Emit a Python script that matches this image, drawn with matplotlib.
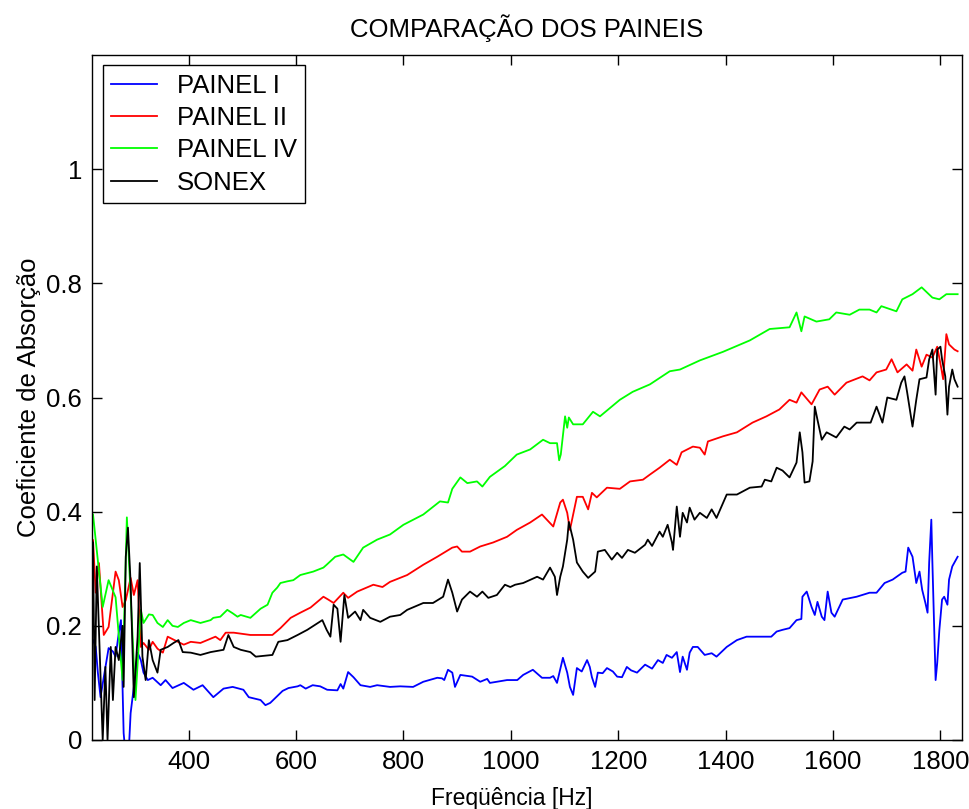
import numpy as np
import matplotlib
matplotlib.use("Agg")
import matplotlib.pyplot as plt

plt.rcParams['font.family'] = ['Liberation Sans', 'DejaVu Sans']

# PAINEL I
f_painel1 = [222, 227, 231, 236, 242, 251, 259, 264, 270, 274, 279, 283, 288, 292, 298, 305, 311, 316,
             324, 333, 348, 357, 370, 391, 409, 426, 446, 465, 482, 502, 512, 534, 543, 552, 575, 586,
             603, 608, 618, 631, 645, 658, 677, 683, 688, 697, 707, 720, 738, 751, 775, 794, 818, 837,
             863, 872, 876, 883, 891, 896, 906, 928, 943, 956, 961, 993, 1012, 1023, 1041, 1058, 1073,
             1079, 1086, 1097, 1105, 1110, 1116, 1123, 1132, 1142, 1147, 1151, 1157, 1162, 1171, 1179,
             1190, 1198, 1207, 1216, 1224, 1235, 1250, 1263, 1274, 1283, 1290, 1300, 1309, 1315, 1320,
             1328, 1333, 1339, 1348, 1361, 1374, 1383, 1402, 1421, 1439, 1463, 1485, 1495, 1506, 1519,
             1532, 1541, 1543, 1551, 1560, 1566, 1571, 1579, 1584, 1590, 1597, 1603, 1618, 1644, 1668,
             1681, 1696, 1711, 1729, 1735, 1740, 1748, 1755, 1761, 1766, 1772, 1776, 1779, 1783, 1785,
             1789, 1791, 1794, 1798, 1803, 1807, 1813, 1816, 1822, 1832]
a_painel1 = [0.175, 0.163, 0.118, 0.075, 0.110, 0.161, 0.155, 0.146, 0.188, 0.210, 0.012, -0.030, -0.030,
             0.047, 0.093, 0.153, 0.140, 0.118, 0.105, 0.109, 0.096, 0.105, 0.091, 0.100, 0.088, 0.096,
             0.075, 0.090, 0.093, 0.088, 0.075, 0.070, 0.061, 0.065, 0.086, 0.091, 0.094, 0.096, 0.090,
             0.096, 0.094, 0.088, 0.087, 0.098, 0.090, 0.119, 0.110, 0.096, 0.093, 0.096, 0.093, 0.094,
             0.093, 0.102, 0.109, 0.108, 0.105, 0.123, 0.118, 0.093, 0.114, 0.111, 0.102, 0.107, 0.100,
             0.105, 0.105, 0.114, 0.123, 0.109, 0.109, 0.112, 0.100, 0.144, 0.118, 0.093, 0.079, 0.126,
             0.120, 0.140, 0.128, 0.110, 0.093, 0.118, 0.117, 0.126, 0.120, 0.111, 0.110, 0.128, 0.122,
             0.118, 0.132, 0.125, 0.140, 0.135, 0.149, 0.144, 0.154, 0.119, 0.146, 0.123, 0.153, 0.163,
             0.163, 0.149, 0.152, 0.146, 0.163, 0.175, 0.181, 0.181, 0.181, 0.190, 0.193, 0.196, 0.210,
             0.212, 0.251, 0.260, 0.233, 0.219, 0.242, 0.216, 0.210, 0.260, 0.223, 0.216, 0.246, 0.251,
             0.258, 0.258, 0.275, 0.281, 0.293, 0.295, 0.337, 0.321, 0.275, 0.295, 0.263, 0.240, 0.223,
             0.311, 0.386, 0.311, 0.175, 0.105, 0.135, 0.193, 0.246, 0.251, 0.237, 0.281, 0.304, 0.321]

# PAINEL II
f_painel2 = [222, 227, 233, 242, 251, 264, 270, 277, 283, 292, 298, 305, 311, 316, 326, 333, 342, 352,
             361, 380, 391, 404, 422, 450, 459, 469, 484, 515, 556, 571, 590, 608, 627, 651, 660, 670,
             688, 697, 714, 744, 761, 775, 807, 837, 863, 891, 900, 909, 924, 943, 967, 993, 1011, 1036,
             1058, 1079, 1092, 1097, 1105, 1110, 1123, 1134, 1144, 1151, 1160, 1179, 1203, 1222, 1246,
             1259, 1277, 1296, 1309, 1318, 1339, 1352, 1361, 1367, 1395, 1421, 1450, 1476, 1500, 1519,
             1532, 1541, 1560, 1575, 1590, 1603, 1625, 1655, 1668, 1681, 1699, 1709, 1720, 1737, 1748,
             1755, 1765, 1774, 1785, 1794, 1802, 1805, 1811, 1816, 1826, 1832]
a_painel2 = [0.350, 0.258, 0.310, 0.184, 0.198, 0.295, 0.280, 0.233, 0.245, 0.284, 0.254, 0.280, 0.163,
             0.170, 0.158, 0.172, 0.160, 0.153, 0.181, 0.172, 0.167, 0.172, 0.170, 0.181, 0.175, 0.188,
             0.188, 0.184, 0.184, 0.196, 0.214, 0.223, 0.232, 0.251, 0.246, 0.240, 0.258, 0.249, 0.260,
             0.272, 0.268, 0.277, 0.289, 0.307, 0.321, 0.337, 0.339, 0.330, 0.330, 0.339, 0.346, 0.356,
             0.368, 0.381, 0.395, 0.374, 0.416, 0.421, 0.398, 0.368, 0.426, 0.426, 0.404, 0.433, 0.425,
             0.442, 0.440, 0.453, 0.456, 0.465, 0.477, 0.491, 0.482, 0.504, 0.514, 0.512, 0.500, 0.523,
             0.532, 0.539, 0.556, 0.567, 0.579, 0.596, 0.591, 0.609, 0.588, 0.614, 0.619, 0.605, 0.626,
             0.637, 0.630, 0.644, 0.649, 0.667, 0.644, 0.658, 0.647, 0.684, 0.654, 0.675, 0.670, 0.689,
             0.649, 0.632, 0.711, 0.693, 0.684, 0.681]

# PAINEL IV
f_painel4 = [222, 240, 251, 264, 277, 285, 296, 301, 311, 316, 326, 333, 342, 352, 361, 370, 380, 391,
             404, 422, 441, 446, 459, 472, 482, 491, 497, 515, 534, 547, 556, 565, 571, 584, 595, 608,
             632, 651, 657, 673, 688, 707, 725, 751, 775, 800, 837, 868, 883, 891, 906, 919, 937, 947,
             961, 989, 1011, 1036, 1060, 1073, 1086, 1090, 1093, 1101, 1105, 1108, 1116, 1134, 1153,
             1166, 1203, 1227, 1259, 1296, 1315, 1352, 1395, 1445, 1482, 1519, 1532, 1541, 1547, 1569,
             1593, 1606, 1631, 1649, 1668, 1681, 1690, 1718, 1729, 1748, 1765, 1785, 1798, 1811, 1832]
a_painel4 = [0.395, 0.233, 0.280, 0.250, 0.105, 0.390, 0.175, 0.070, 0.228, 0.205, 0.220, 0.219, 0.205,
             0.198, 0.210, 0.200, 0.198, 0.205, 0.210, 0.205, 0.210, 0.214, 0.216, 0.228, 0.222, 0.216,
             0.219, 0.214, 0.230, 0.237, 0.258, 0.267, 0.275, 0.278, 0.280, 0.289, 0.295, 0.302, 0.307,
             0.321, 0.325, 0.312, 0.337, 0.351, 0.360, 0.377, 0.395, 0.418, 0.416, 0.440, 0.460, 0.450,
             0.453, 0.444, 0.461, 0.480, 0.500, 0.509, 0.526, 0.520, 0.520, 0.490, 0.500, 0.567, 0.547,
             0.565, 0.553, 0.553, 0.575, 0.567, 0.596, 0.610, 0.623, 0.646, 0.649, 0.665, 0.680, 0.700,
             0.720, 0.723, 0.749, 0.716, 0.742, 0.733, 0.737, 0.749, 0.745, 0.754, 0.754, 0.749, 0.760,
             0.751, 0.772, 0.781, 0.793, 0.775, 0.772, 0.781, 0.781]

# SONEX
f_sonex = [222, 225, 229, 240, 245, 249, 255, 259, 264, 270, 277, 279, 283, 287, 292, 298, 305, 309, 314,
           320, 326, 333, 342, 348, 361, 372, 381, 389, 404, 422, 441, 465, 474, 484, 497, 515, 525, 556,
           567, 584, 603, 621, 649, 657, 664, 670, 677, 683, 690, 697, 710, 720, 725, 738, 757, 775, 794,
           807, 837, 855, 874, 883, 891, 900, 909, 924, 937, 947, 958, 974, 989, 999, 1008, 1023, 1049,
           1060, 1073, 1082, 1086, 1092, 1097, 1105, 1108, 1116, 1123, 1134, 1144, 1157, 1162, 1175, 1188,
           1198, 1207, 1218, 1231, 1250, 1255, 1263, 1277, 1283, 1292, 1300, 1302, 1309, 1315, 1320, 1328,
           1333, 1342, 1352, 1365, 1374, 1383, 1402, 1421, 1445, 1467, 1473, 1485, 1495, 1506, 1519, 1532,
           1538, 1543, 1547, 1556, 1562, 1566, 1571, 1579, 1588, 1606, 1621, 1631, 1644, 1662, 1670, 1681,
           1692, 1701, 1718, 1727, 1733, 1738, 1748, 1755, 1761, 1774, 1779, 1785, 1791, 1794, 1800, 1803,
           1809, 1813, 1816, 1822, 1826, 1832]
a_sonex = [0.346, 0.070, 0.304, 0.000, 0.128, 0.000, 0.163, 0.070, 0.163, 0.140, 0.200, 0.093, 0.321,
           0.372, 0.275, 0.075, 0.181, 0.310, 0.146, 0.105, 0.175, 0.140, 0.118, 0.158, 0.163, 0.170, 0.175,
           0.154, 0.153, 0.149, 0.154, 0.158, 0.184, 0.163, 0.158, 0.154, 0.146, 0.149, 0.172, 0.175, 0.184,
           0.193, 0.210, 0.193, 0.181, 0.237, 0.230, 0.172, 0.254, 0.214, 0.225, 0.210, 0.228, 0.214, 0.207,
           0.216, 0.219, 0.228, 0.240, 0.240, 0.251, 0.281, 0.258, 0.225, 0.246, 0.260, 0.251, 0.260, 0.249,
           0.254, 0.272, 0.268, 0.272, 0.275, 0.286, 0.281, 0.302, 0.286, 0.254, 0.286, 0.304, 0.351, 0.382,
           0.351, 0.311, 0.295, 0.284, 0.295, 0.330, 0.333, 0.316, 0.328, 0.319, 0.333, 0.328, 0.342, 0.351,
           0.340, 0.365, 0.356, 0.377, 0.346, 0.333, 0.409, 0.356, 0.398, 0.381, 0.407, 0.386, 0.398, 0.389,
           0.404, 0.389, 0.430, 0.430, 0.442, 0.444, 0.456, 0.453, 0.477, 0.472, 0.460, 0.486, 0.539, 0.504,
           0.451, 0.453, 0.488, 0.584, 0.561, 0.526, 0.539, 0.530, 0.549, 0.544, 0.556, 0.556, 0.556, 0.584,
           0.556, 0.600, 0.596, 0.626, 0.637, 0.609, 0.549, 0.596, 0.632, 0.635, 0.667, 0.684, 0.605, 0.684,
           0.689, 0.667, 0.637, 0.570, 0.619, 0.649, 0.632, 0.619]

series = [
    (f_painel1, a_painel1, 'PAINEL I', (0, 0, 1)),
    (f_painel2, a_painel2, 'PAINEL II', (1, 0, 0)),
    (f_painel4, a_painel4, 'PAINEL IV', (0, 1, 0)),
    (f_sonex, a_sonex, 'SONEX', (0, 0, 0)),
]

fs = 18.5

fig = plt.figure(figsize=(9.69, 8.09), dpi=100)
ax = fig.add_axes([0.0949, 0.0853, 0.8978, 0.8467])

for f, a, nome, cor in series:
    ax.plot(f, a, color=cor, lw=1.3, label=nome)

ax.set_xlim(220, 1840)
ax.set_ylim(0, 1.2)
ax.set_xticks(np.arange(400, 1801, 200))
ax.set_yticks([0, 0.2, 0.4, 0.6, 0.8, 1.0])
ax.set_yticklabels(['0', '0.2', '0.4', '0.6', '0.8', '1'])

ax.tick_params(direction='in', length=7, width=1, labelsize=fs, pad=7,
               top=True, right=True, colors='black')
for s in ax.spines.values():
    s.set_linewidth(1.0)

ax.set_title('COMPARAÇÃO DOS PAINEIS', fontsize=fs, pad=13)
ax.set_xlabel('Freqüência [Hz]', fontsize=16.5)
ax.xaxis.set_label_coords(0.482, -0.068)
ax.set_ylabel('Coeficiente de Absorção', fontsize=fs, labelpad=4)

leg = ax.legend(loc='upper left', bbox_to_anchor=(0.0126, 0.985), fontsize=fs,
                fancybox=False, framealpha=1, edgecolor='black', handlelength=1.8,
                handletextpad=0.75, labelspacing=0.33, borderpad=0.32, borderaxespad=0)
leg.get_frame().set_linewidth(1.0)

fig.savefig('out.png', dpi=100, facecolor='white')
